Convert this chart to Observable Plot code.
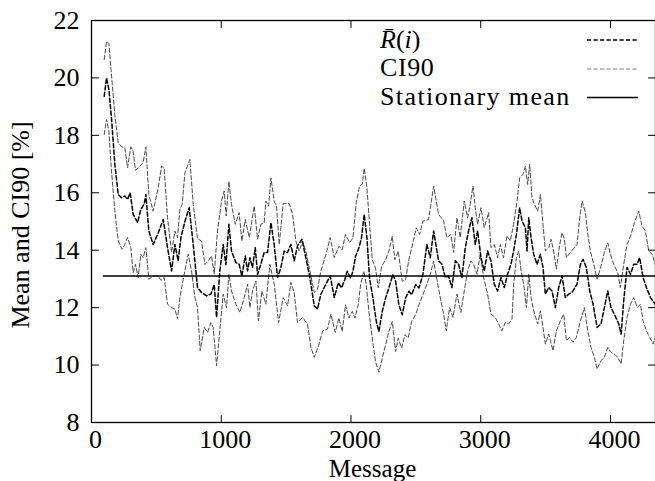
<!DOCTYPE html>
<html>
<head>
<meta charset="utf-8">
<script src="https://cdn.jsdelivr.net/npm/d3@7"></script>
<script src="https://cdn.jsdelivr.net/npm/@observablehq/plot@0.6"></script>
<style>
  html, body { margin: 0; padding: 0; background: white; }
</style>
</head>
<body>
<div id="chart"></div>
<script>
// ---- Data ----
const xTicks = [0, 1000, 2000, 3000, 4000];
const yTicks = [8, 10, 12, 14, 16, 18, 20, 22];
const xDomain = [0, 4347];
const yDomain = [8, 22];

const stationaryMean = 13.1;
const stationaryRange = [92, 4347];

const meanX = [98,116,134,154,180,206,231,257,278,298,321,355,380,406,419,442,475,514,553,586,617,643,668,689,720,753,784,817,848,887,920,946,964,989,1015,1036,1059,1079,
  1113,1138,1159,1185,1203,1221,1241,1262,1280,1305,1331,1357,1383,1408,1434,1460,1485,1511,1537,1562,1588,1622,1652,1683,1717,1742,1768,1807,1840,1871,
  1902,1927,1953,1971,1997,2015,2035,2061,2081,2102,2123,2143,2169,2195,2215,2241,2267,2292,2323,2344,2369,2395,2421,2446,2467,2498,2524,2554,
  2585,2611,2637,2675,2701,2727,2752,2778,2804,2829,2855,2881,2906,2932,2958,2976,3002,3027,3053,3079,3104,3130,3156,3181,3207,3233,3253,
  3275,3300,3318,3344,3357,3370,3388,3408,3434,3460,3480,3498,3524,3550,3575,3601,3627,3652,3678,3704,3742,3768,3789,3814,3840,3866,3897,3927,3953,3979,4004,4030,4064,4082,4102,4128,4154,4179,4205,4225,4251,4277,4308,4345];
const meanY = [19.36,20.0,19.6,18.6,16.99,15.94,15.83,15.89,15.77,16.0,15.25,14.96,15.42,15.6,15.94,14.67,14.2,14.6,15.07,14.09,13.28,14.2,13.63,14.44,15.0,15.48,14.2,12.7,12.53,12.41,12.47,12.8,11.66,13.28,14.2,13.5,14.9,13.97,
  13.57,13.51,13.1,13.8,13.28,13.74,13.4,14.09,13.16,13.51,13.92,13.92,14.96,14.2,13.05,13.4,13.97,13.92,14.2,13.63,14.15,14.38,13.74,13.05,12.06,11.95,12.47,12.82,13.1,12.35,
  12.86,12.69,12.98,13.27,13.03,13.27,13.79,14.08,14.43,15.25,14.43,13.03,12.34,11.52,11.17,11.87,12.34,12.69,13.15,12.92,12.1,11.75,12.34,12.57,12.45,12.8,12.69,13.15,
  14.2,13.74,14.67,13.63,13.51,13.05,13.1,12.7,13.63,13.51,13.05,14.09,14.67,15.13,14.2,14.67,13.74,13.28,13.97,13.63,12.82,12.58,13.05,12.7,13.16,13.51,13.97,
  14.55,15.48,15.02,14.79,13.97,15.13,14.44,13.86,13.51,13.86,13.4,12.47,12.7,12.58,12.0,12.7,13.1,12.35,12.47,12.53,12.82,13.51,13.68,13.4,12.58,12.12,11.31,11.43,12.0,12.58,12.0,11.77,11.43,11.08,12.24,13.4,13.16,13.51,13.51,13.74,13.05,12.7,12.35,12.12];

const upperX = [98,116,134,154,180,206,231,257,278,303,321,339,373,398,419,442,475,514,540,560,586,617,643,663,681,699,720,758,784,817,848,874,900,925,946,971,1002,1023,1038,1059,1079,
  1108,1138,1159,1185,1216,1254,1280,1305,1331,1344,1365,1383,1408,1426,1447,1478,1524,1550,1575,1601,1627,1652,1683,1717,1742,1768,1807,1840,1871,
  1907,1932,1958,1989,2015,2040,2066,2087,2102,2123,2143,2164,2189,2210,2236,2267,2292,2318,2338,2364,2395,2421,2446,2477,2503,2529,2554,
  2598,2637,2675,2714,2739,2770,2791,2817,2842,2873,2899,2919,2940,2958,2976,3002,3027,3061,3079,3104,3130,3151,3176,3202,3228,3253,
  3280,3300,3326,3344,3362,3377,3395,3413,3439,3460,3480,3498,3524,3542,3562,3583,3609,3627,3645,3660,3691,3742,3763,3781,3807,3825,3845,3871,3897,3927,3953,3979,3999,4025,4056,4076,4102,4128,4159,4184,4218,4243,4269,4295,4321,4345];
const upperY = [20.64,21.27,21.2,20.1,18.7,17.74,17.6,17.57,16.87,17.6,17.45,16.78,16.93,17.05,17.6,15.94,15.36,16.17,16.93,16.85,15.13,13.92,14.67,14.44,15.42,15.6,16.7,17.16,15.6,14.4,14.32,13.5,13.63,13.8,13.17,14.67,15.71,16.06,15.19,16.4,15.6,
  14.9,15.31,14.32,15.07,14.44,15.54,14.38,14.9,14.96,15.71,15.54,16.52,15.71,15.54,14.2,15.63,15.63,15.25,14.32,13.97,14.32,13.97,13.28,12.53,12.64,13.28,13.86,14.44,13.74,
  14.14,14.02,14.55,14.26,14.43,15.65,16.24,16.3,16.85,16.18,14.9,13.67,13.38,12.69,13.44,13.67,13.97,14.49,13.67,13.97,12.92,12.98,13.67,14.26,14.78,14.55,15.01,
  15.07,16.23,15.25,15.02,14.44,14.55,13.92,15.13,14.44,15.71,15.13,15.6,16.23,15.48,14.9,15.48,14.79,15.31,14.09,14.2,13.74,14.2,13.74,14.5,14.32,14.9,
  15.71,16.52,16.64,16.93,16.29,16.99,15.83,15.6,15.36,15.94,14.9,13.97,14.09,14.38,13.97,13.34,14.2,14.61,14.38,13.74,13.92,14.2,15.13,15.71,15.31,14.56,13.97,13.51,12.99,13.45,13.92,14.26,13.86,13.51,13.22,12.7,13.51,14.2,14.55,14.96,15.36,14.84,14.67,13.97,13.86,13.51];

const lowerX = [98,116,134,154,180,206,236,257,278,303,321,339,360,380,398,419,442,475,514,535,560,586,617,643,663,681,707,745,771,797,817,838,869,894,920,938,964,989,1015,1041,1059,1079,
  1113,1144,1177,1203,1221,1241,1267,1287,1313,1344,1375,1408,1442,1478,1511,1537,1562,1588,1627,1665,1691,1717,1750,1781,1819,1845,1879,
  1907,1932,1958,1984,2010,2030,2056,2074,2100,2117,2138,2164,2189,2215,2241,2267,2292,2318,2344,2364,2390,2416,2441,2467,2498,2524,2554,
  2585,2611,2637,2662,2688,2714,2734,2760,2786,2817,2847,2873,2899,2924,2945,2971,2996,3022,3053,3079,3112,3138,3163,3189,3215,3241,
  3254,3275,3293,3311,3331,3352,3370,3388,3408,3439,3460,3480,3498,3524,3557,3583,3614,3640,3660,3686,3711,3737,3768,3799,3825,3850,3876,3897,3927,3953,3979,4004,4030,4056,4082,4102,4128,4154,4179,4205,4231,4251,4277,4303,4328,4345];
const lowerY = [18.03,18.55,18.15,16.76,15.36,14.32,14.03,14.2,14.44,14.09,13.22,13.51,13.05,13.86,13.74,14.09,12.99,13.1,13.1,12.95,13.05,12.12,12.0,11.95,11.6,12.35,12.99,13.86,13.28,12.35,12.0,10.5,11.31,11.14,11.48,11.31,9.98,11.19,12.47,12.0,13.16,12.58,
  12.12,11.83,12.35,12.82,12.0,12.58,12.93,11.54,12.58,12.12,13.51,12.82,11.48,12.35,12.06,12.88,12.53,11.48,11.66,11.43,10.61,10.27,10.67,11.19,11.25,11.77,11.14,
  11.64,11.17,12.1,11.64,11.87,11.64,12.1,12.8,13.27,12.8,11.87,10.94,10.12,9.75,10.24,10.71,11.17,11.52,10.47,10.94,10.59,11.06,10.94,11.52,11.75,12.1,12.45,
  12.82,13.16,13.63,12.99,12.35,11.77,11.19,12.0,11.66,12.47,11.83,12.58,13.28,13.63,13.51,13.16,13.86,13.05,12.47,11.77,11.66,11.43,11.19,11.48,11.43,11.6,
  12.82,13.74,13.97,13.28,12.82,12.0,13.16,12.35,11.89,11.43,11.89,11.31,10.73,11.08,10.5,11.19,11.54,11.77,10.85,10.96,10.79,10.96,11.54,12.0,11.19,10.61,10.27,9.86,10.15,10.27,10.61,10.44,10.38,10.27,10.04,10.85,11.66,12.12,12.35,12.0,12.12,11.54,11.19,10.96,10.73,10.96];

// ---- Build tables ----
const toRows = (xs, ys) => xs.map((x, i) => ({x, y: ys[i]}));
const meanRows = toRows(meanX, meanY);
const upperRows = toRows(upperX, upperY);
const lowerRows = toRows(lowerX, lowerY);
const stationaryRows = stationaryRange.map(x => ({x, y: stationaryMean}));

const tickShape = {draw(context, l) { context.moveTo(0, 0); context.lineTo(0, -l); }};
const FONT = "Liberation Serif, DejaVu Serif, serif";
const dash = "4.2,2.3";
const ciColor = "#4a4a4a";

const plot = Plot.plot({
  width: 655,
  height: 481,
  marginLeft: 91,
  marginRight: 0,
  marginTop: 20,
  marginBottom: 59,
  style: {fontFamily: FONT, fontSize: "26px", background: "white", color: "black"},
  x: {domain: xDomain},
  y: {domain: yDomain},
  marks: [
    Plot.line(upperRows, {x: "x", y: "y", stroke: ciColor, strokeWidth: 1, strokeDasharray: dash, clip: true}),
    Plot.line(lowerRows, {x: "x", y: "y", stroke: ciColor, strokeWidth: 1, strokeDasharray: dash, clip: true}),
    Plot.line(meanRows, {x: "x", y: "y", stroke: "black", strokeWidth: 1.5, strokeDasharray: dash, clip: true}),
    Plot.line(stationaryRows, {x: "x", y: "y", stroke: "black", strokeWidth: 1.6, clip: true}),
    // inward ticks on all four sides
    Plot.vector(xTicks, {x: d => d, y: yDomain[0], length: 7, rotate: 0, anchor: "start", shape: tickShape, stroke: "black", strokeWidth: 1}),
    Plot.vector(xTicks, {x: d => d, y: yDomain[1], length: 7, rotate: 180, anchor: "start", shape: tickShape, stroke: "black", strokeWidth: 1}),
    Plot.vector(yTicks, {x: xDomain[0], y: d => d, length: 7, rotate: 90, anchor: "start", shape: tickShape, stroke: "black", strokeWidth: 1}),
    Plot.vector(yTicks, {x: xDomain[1], y: d => d, length: 7, rotate: -90, anchor: "start", shape: tickShape, stroke: "black", strokeWidth: 1}),
    Plot.axisX(xTicks, {tickSize: 0, tickPadding: 7, dx: 4, label: null, fontSize: 26, tickFormat: d3.format("d")}),
    Plot.axisY(yTicks, {tickSize: 0, tickPadding: 12, label: null, fontSize: 26, tickFormat: d3.format("d")}),
    Plot.frame({stroke: "black", strokeWidth: 1.3})
  ]
});

const svg = d3.select(plot);
// axis titles
svg.append("text")
  .attr("x", 372.5).attr("y", 477)
  .attr("text-anchor", "middle")
  .attr("font-family", FONT).attr("font-size", 25).attr("fill", "black")
  .text("Message");
svg.append("text")
  .attr("transform", "translate(29,225) rotate(-90)")
  .attr("text-anchor", "middle")
  .attr("font-family", FONT).attr("font-size", 26).attr("fill", "black")
  .text("Mean and CI90 [%]");

// legend
const leg = svg.append("g").attr("font-family", FONT).attr("font-size", 26).attr("fill", "black").attr("text-anchor", "start");
const t1 = leg.append("text").attr("x", 380).attr("y", 48).attr("text-anchor", "start");
t1.append("tspan").attr("font-style", "italic").text("R\u0304");
t1.append("tspan").text("(");
t1.append("tspan").attr("font-style", "italic").text("i");
t1.append("tspan").text(")");
leg.append("text").attr("x", 380).attr("y", 76).attr("text-anchor", "start").attr("letter-spacing", 0.6).text("CI90");
leg.append("text").attr("x", 380).attr("y", 104.5).attr("text-anchor", "start").attr("letter-spacing", 1.4).text("Stationary mean");
leg.append("line").attr("x1", 587).attr("x2", 638).attr("y1", 40).attr("y2", 40)
  .attr("stroke", "black").attr("stroke-width", 1.4).attr("stroke-dasharray", dash);
leg.append("line").attr("x1", 587).attr("x2", 638).attr("y1", 69).attr("y2", 69)
  .attr("stroke", "#808080").attr("stroke-width", 1.2).attr("stroke-dasharray", dash);
leg.append("line").attr("x1", 587).attr("x2", 638).attr("y1", 97.5).attr("y2", 97.5)
  .attr("stroke", "black").attr("stroke-width", 1.6);

document.getElementById("chart").appendChild(plot);
</script>
</body>
</html>
